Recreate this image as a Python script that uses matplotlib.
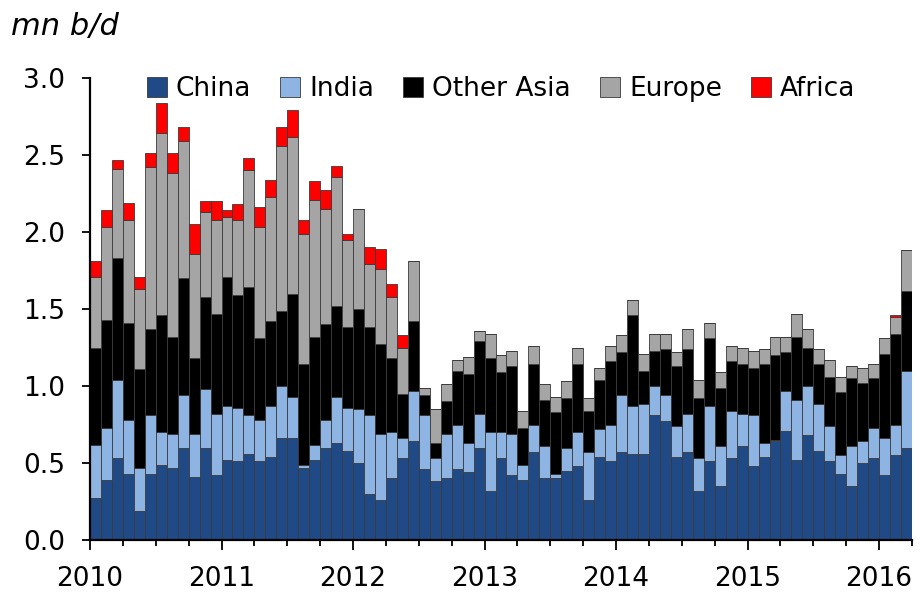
import matplotlib
matplotlib.use("Agg")
import matplotlib.pyplot as plt
import numpy as np

plt.rcParams['font.family'] = ['DejaVu Sans']

# monthly, Jan 2010 .. Mar 2016 (mn b/d)
years = ['2010', '2011', '2012', '2013', '2014', '2015', '2016']
series = ['China', 'India', 'Other Asia', 'Europe', 'Africa']
colors = ['#1f4a86', '#8db4e2', '#000000', '#a5a5a5', '#ff0000']

china = [.27, .39, .53, .43, .19, .43, .49, .47, .60, .41, .60, .42,
         .52, .51, .56, .51, .54, .66, .66, .47, .52, .60, .63, .58,
         .50, .30, .26, .40, .53, .64, .46, .38, .40, .46, .44, .60,
         .32, .53, .42, .39, .57, .40, .40, .45, .48, .26, .54, .51,
         .57, .56, .56, .81, .77, .54, .57, .32, .51, .35, .53, .61,
         .48, .54, .64, .71, .52, .68, .58, .51, .43, .35, .50, .53,
         .42, .55, .60]
india = [.35, .34, .51, .35, .28, .38, .21, .22, .34, .28, .38, .40,
         .35, .35, .25, .27, .33, .34, .27, .02, .10, .18, .30, .28,
         .35, .51, .43, .30, .13, .33, .35, .15, .29, .29, .19, .22,
         .38, .17, .27, .10, .18, .21, .03, .15, .22, .31, .18, .24,
         .37, .31, .32, .19, .17, .20, .25, .21, .36, .26, .31, .21,
         .33, .09, .01, .26, .39, .32, .30, .23, .12, .26, .14, .20,
         .24, .20, .50]
other_asia = [.63, .70, .79, .63, .64, .56, .76, .63, .76, .49, .60, .65,
              .84, .73, .83, .53, .55, .49, .67, .65, .70, .62, .59, .52,
              .65, .57, .58, .48, .29, .45, .13, .10, .21, .35, .45, .47,
              .48, .39, .44, .24, .39, .30, .40, .32, .44, .27, .32, .41,
              .28, .59, .22, .23, .30, .39, .42, .39, .44, .38, .32, .32,
              .31, .51, .55, .25, .41, .25, .26, .32, .41, .44, .38, .32,
              .55, .59, .52]
europe = [.46, .60, .58, .67, .52, 1.05, 1.18, 1.06, .89, .68, .55, .61,
          .39, .49, .76, .72, .81, 1.07, 1.02, .85, .89, .75, .84, .57,
          .65, .41, .49, .40, .30, .39, .05, .22, .11, .07, .11, .07,
          .16, .11, .10, .11, .12, .10, .10, .11, .11, .08, .08, .10,
          .11, .10, .11, .11, .10, .09, .13, .12, .10, .10, .10, .11,
          .11, .10, .12, .10, .15, .12, .10, .11, .10, .08, .10, .09,
          .10, .11, .26]
africa = [.10, .11, .06, .11, .08, .09, .20, .13, .09, .19, .07, .12,
          .04, .10, .08, .13, .11, .12, .17, .09, .12, .12, .07, .04,
          0, .11, .13, .08, .08, 0, 0, 0, 0, 0, 0, 0,
          0, 0, 0, 0, 0, 0, 0, 0, 0, 0, 0, 0,
          0, 0, 0, 0, 0, 0, 0, 0, 0, 0, 0, 0,
          0, 0, 0, 0, 0, 0, 0, 0, 0, 0, 0, 0,
          0, .01, 0]

data = [china, india, other_asia, europe, africa]
n = len(china)
x = np.arange(n) + 0.5

fig = plt.figure(figsize=(9.22, 5.95), dpi=100)
ax = fig.add_axes([90/922, 55/595, 822/922, 462/595])

bottom = np.zeros(n)
for name, vals, c in zip(series, data, colors):
    vals = np.array(vals)
    ax.bar(x, vals, width=1.0, bottom=bottom, color=c, edgecolor='#3a3a3a',
           linewidth=0.6, label=name)
    bottom += vals

ax.set_xlim(0, n)
ax.set_ylim(0, 3.0)
ax.set_yticks(np.arange(0, 3.01, 0.5))
ax.set_yticklabels(['%.1f' % v for v in np.arange(0, 3.01, 0.5)])
ax.set_xticks(np.arange(0, n, 12))
ax.set_xticklabels(years)
ax.set_xticks(np.arange(0, n + 1, 3), minor=True)

for s in ['top', 'right']:
    ax.spines[s].set_visible(False)
for s in ['left', 'bottom']:
    ax.spines[s].set_linewidth(1.6)

ax.tick_params(axis='y', length=6, width=1.3, pad=12, labelsize=19)
ax.tick_params(axis='x', which='major', length=7, width=1.3, pad=12, labelsize=19)
ax.tick_params(axis='x', which='minor', length=4.5, width=1.3)

ax.legend(loc='upper center', bbox_to_anchor=(0.5, 1.027), ncol=5, frameon=False,
          fontsize=19, handlelength=0.75, handleheight=0.75, handletextpad=0.35,
          columnspacing=1.1, borderaxespad=0)

fig.text(0.012, 0.955, 'mn b/d', fontsize=22, style='italic', va='center', ha='left')

fig.savefig('out.png', dpi=100)
